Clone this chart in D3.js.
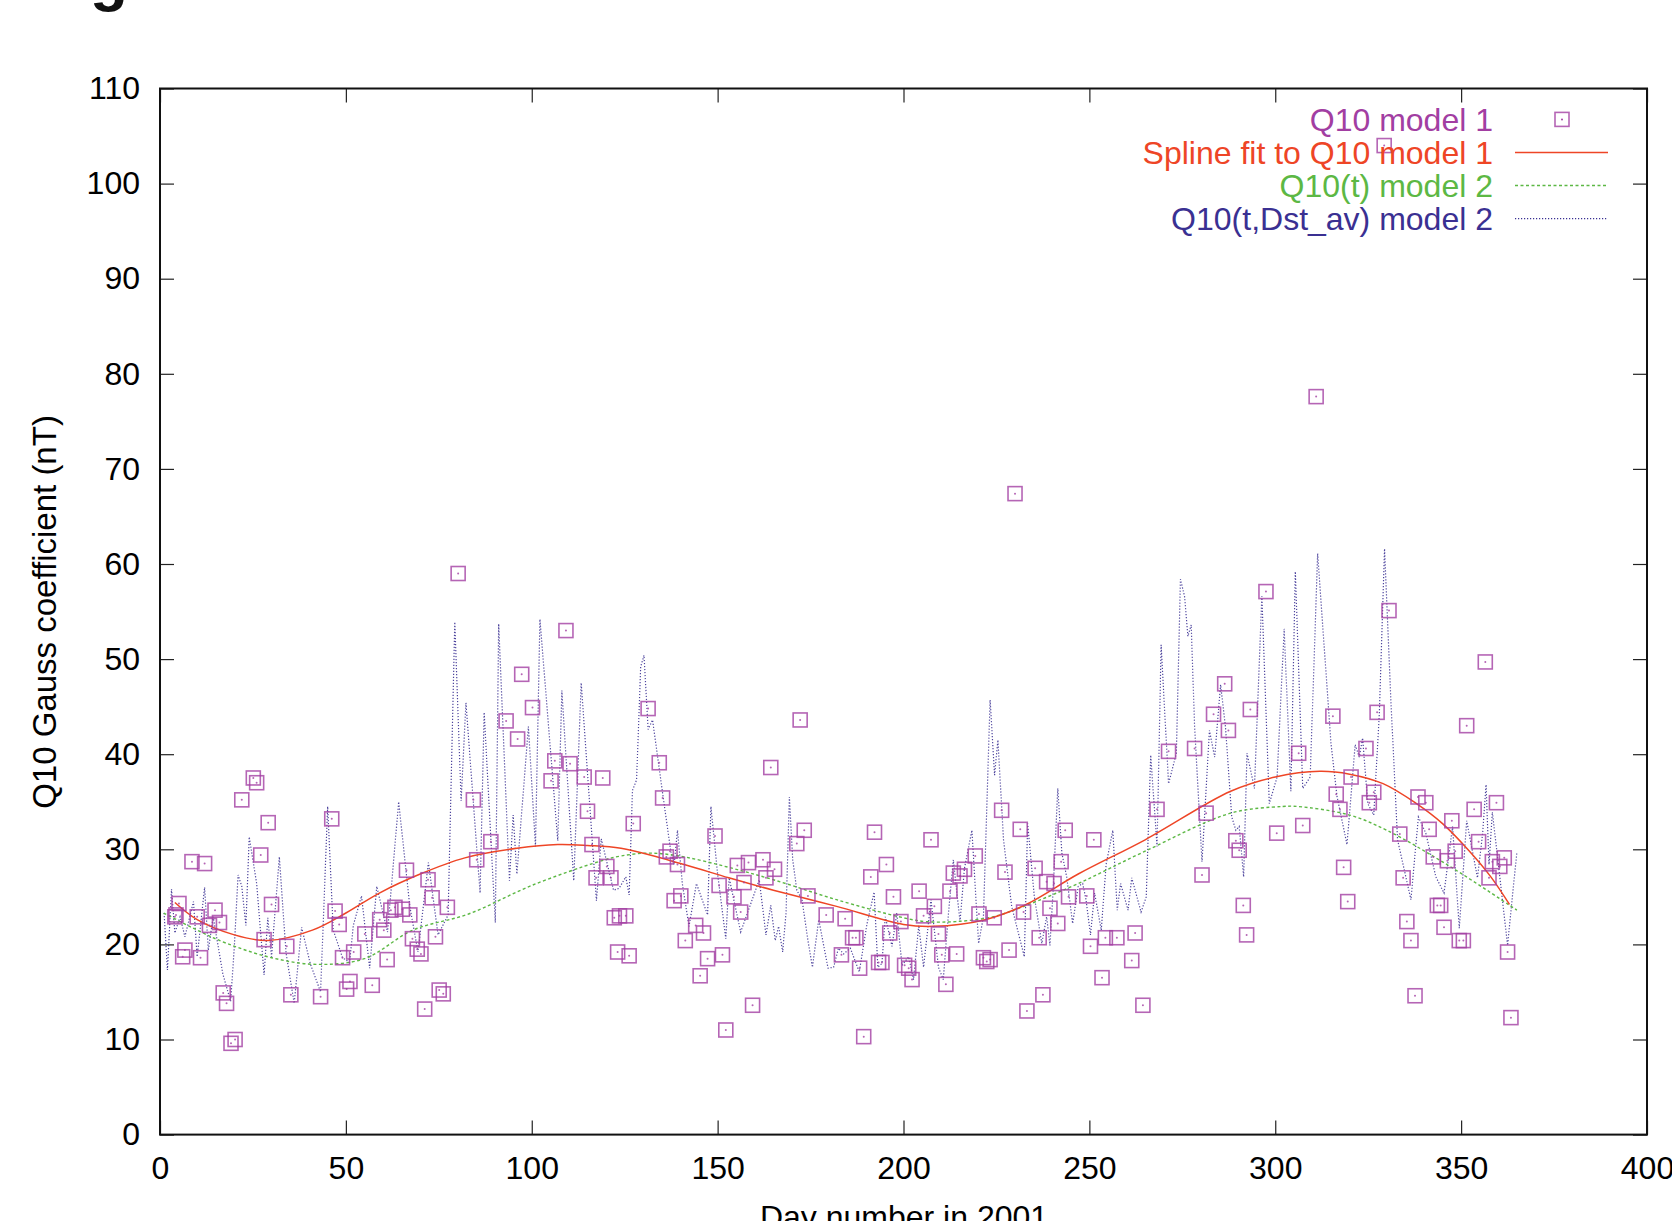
<!DOCTYPE html>
<html>
<head>
<meta charset="utf-8">
<script src="https://cdn.jsdelivr.net/npm/d3@7"></script>
<style>
html,body{margin:0;padding:0;background:#fff;}
svg{display:block;font-family:"Liberation Sans",Arial,Helvetica,sans-serif;}
</style>
</head>
<body>
<svg id="chart" width="1672" height="1221"></svg>
<script>
// ---------- DATA ----------
const xTicks = [0,50,100,150,200,250,300,350,400];
const yTicks = [0,10,20,30,40,50,60,70,80,90,100,110];

const seriesNames = ["Q10 model 1","Spline fit to Q10 model 1","Q10(t) model 2","Q10(t,Dst_av) model 2"];

// Q10 model 1 (squares): day, value
const q10Days = [4,4.3,5.1,6.1,6.7,8.6,10,10.9,12,13.3,14.8,16,17,17.9,19.1,20.2,22,25.1,26,27.1,28,29.1,30,34.1,35.2,43.2,
46.2,47.1,48.2,49.1,50.2,51.1,52.1,55.1,57.1,59.1,60.2,61.1,62.1,63.2,65.2,66.3,67.2,67.9,69.2,70.2,71.2,72.1,73.2,74.1,75.1,76.2,77.3,
80.2,84.3,85.2,89,93.1,96.2,97.3,100.2,105.2,106.2,109.2,110.3,114.1,115,116.2,117.3,119.1,120.2,121.3,122.2,123.1,123.6,125.3,126.2,127.3,
131.3,134.3,135.2,136.2,137.2,138.3,139.2,140.1,141.3,144.1,145.3,146.2,147.3,149.3,150.4,151.3,152.2,154.4,155.3,156.2,157.1,158.3,159.4,
162.2,163,164.3,165.3,171.3,172.2,173.3,174.3,179.2,183.3,184.3,186.3,187.2,188.2,189.3,191.2,192.2,193.3,194.2,195.4,196.3,197.3,199.3,
200.3,201.4,202.3,204.2,205.4,207.4,208.3,209.4,210.3,211.4,212.5,213.4,214.3,215.2,216.4,219.3,220.3,221.5,222.4,223.3,224.4,226.4,227.3,228.4,
230,231.4,232.3,233.2,235.4,236.5,237.5,238.5,239.4,240.5,241.5,242.4,243.5,244.4,249.3,250.3,251.2,253.4,254.3,257.4,261.4,262.3,264.4,
268.2,271.3,278.3,280.3,281.4,283.4,286.4,287.4,289.4,290.3,291.4,292.3,293.3,297.5,300.4,306.3,307.4,311,315.5,316.4,317.4,318.4,319.5,
320.4,324.4,325.3,326.5,327.4,329.3,330.6,333.5,334.4,335.4,336.5,337.6,338.4,340.5,341.4,342.5,343.6,344.5,345.4,346.3,347.5,348.4,349.5,350.6,
351.5,353.5,354.7,356.5,357.5,358.4,359.5,360.4,361.6,362.5,363.4];
const q10Vals = [22.9,23.1,24.3,18.7,19.4,28.7,22.9,18.6,28.5,22.0,23.6,22.3,14.9,13.8,9.6,10.0,35.2,37.5,37.0,29.4,20.5,32.8,24.2,19.8,14.7,14.5,
33.2,23.5,22.1,18.6,15.3,16.1,19.2,21.1,15.7,22.6,21.5,18.4,23.6,23.9,23.7,27.8,23.1,20.6,19.5,19.0,13.2,26.8,24.9,20.8,15.2,14.8,23.9,
59.0,35.2,28.9,30.8,43.5,41.6,48.4,44.9,37.2,39.3,53.0,39.0,37.6,34.0,30.5,27.0,37.5,28.2,27.0,22.8,19.2,23.0,23.0,18.8,32.7,
44.8,39.1,35.4,29.2,29.8,24.6,28.4,25.1,20.4,22.0,16.7,21.2,18.5,31.4,26.2,18.9,11.0,25.0,28.3,23.4,26.5,28.6,13.6,
28.9,27.0,38.6,27.9,30.6,43.6,32.0,25.1,23.1,18.9,22.7,20.7,20.7,17.5,10.3,27.1,31.8,18.1,18.1,28.4,21.2,25.0,22.4,
17.8,17.5,16.3,25.6,23.0,31.0,24.0,21.1,18.9,15.8,25.6,27.5,19.0,27.2,27.9,29.3,23.2,18.6,18.2,18.4,22.8,34.1,27.6,19.4,
67.4,32.1,23.4,13.0,28.0,20.7,14.7,26.6,23.8,26.4,22.2,28.7,32.0,25.0,25.1,19.8,31.0,16.5,20.7,20.7,18.3,21.2,13.6,
34.2,40.3,40.6,27.3,33.8,44.2,47.4,42.5,30.9,29.9,24.1,21.0,44.7,57.1,31.7,40.1,32.5,77.6,44.0,35.8,34.2,28.1,24.5,
37.6,40.6,34.9,36.0,44.4,104.0,55.1,31.6,27.0,22.4,20.4,14.6,35.5,34.9,32.1,29.2,24.1,24.1,21.8,28.8,33.0,29.8,20.4,20.4,
43.0,34.2,30.8,49.7,27.0,28.7,34.9,28.2,29.1,19.2,12.3];

// Spline fit to Q10 model 1
const splineDays = [4,10,20,29,41,50,59,70,82,96,107,115,124,141,153,165,182,200,208,222,233,247,265,288,300,312,320,329,338,345,352,358,363];
const splineVals = [24.4,22.6,21.0,20.4,21.5,23.3,25.4,27.4,29.1,30.1,30.5,30.4,30.1,28.4,27.0,25.7,24.0,22.1,21.9,22.6,24.2,27.4,31.0,36.1,37.6,38.2,37.9,36.9,34.8,32.7,29.9,27.1,24.2];

// Q10(t) model 2
const modelTDays = [1,10,18,30,42,55,68,83,100,118,124,132,141,153,165,182,200,206,214,224,233,247,265,288,302,306,320,330,347,365];
const modelTVals = [23.3,21.5,20.1,18.6,17.9,18.5,21.5,23.2,26.2,28.7,29.3,29.6,29.2,28.1,26.8,24.7,22.8,22.4,22.4,22.9,24.1,26.4,29.8,33.8,34.5,34.5,33.6,32.0,28.2,23.6];

// Q10(t,Dst_av) model 2
const modelDstDays = [1.1,2,3.1,4,5.4,6.7,9,10,12,13,14.3,16.9,19,20,21,22,23.1,24,26,28,29,30,32.1,33.9,36.1,38.1,40.4,43.2,45.1,
46.6,49.1,51,52,54.2,56.4,58.3,61.2,64.2,67.2,69.4,72.2,74.8,77.5,79.3,81,82.3,86.1,87.2,90.2,91.1,94,95,96,99.1,101,102.2,107,108.1,
111.3,113.3,117.4,118.7,122,123.5,125.3,126.2,127.1,128.2,129.3,130.2,131.3,132.5,135.2,137.4,138.3,139.2,140.5,142.3,144.3,147.3,148.2,
150,152.2,153.1,156.2,161.2,163,164.3,165.5,166.4,167.5,168.4,169.3,170.2,171.3,172.7,174.3,175.5,177.2,179.7,181.2,182.5,183.9,185.7,
188.1,190.2,192.1,193.1,194.2,195.1,196.9,198.2,199.6,201.4,202.7,204.1,205.4,207.4,209.4,210.7,212.1,213.4,215.2,216.4,218.4,220.2,
221.5,223.3,224.5,225.4,226.9,229.1,232.5,233.4,235.2,237.2,238.5,239.4,240.3,241.5,242.6,243.9,245.5,247,248.2,249.1,250.3,251.4,
253.2,254.5,256.3,257.5,258.4,260.4,261.4,263.9,265.3,266.5,268.2,269.3,271.3,273.4,274.5,275.6,276.5,277.4,278.3,280.3,282.3,283.7,
285.3,286.6,288.3,289.4,290.3,291.5,292.4,294.4,296.4,298.4,300.5,302.4,304.2,305.4,307.4,309.4,311.4,315,316.6,319.3,321.5,322.6,
323.5,324.9,326.5,328,329.4,331.1,332.9,336.5,338.5,340.5,343.2,345.4,347.7,349.5,351.5,354.4,355.8,356.7,357.5,358.4,360.2,362.5,363.6,365];
const modelDstVals = [23.3,17.3,25.8,21.2,22.9,20.8,24.5,18.7,26.0,19.4,22.9,16.9,14.0,19.8,27.3,26.1,22.0,31.3,26.4,16.8,22.8,18.7,29.2,19.1,13.8,21.8,18.0,15.0,34.5,
21.5,18.6,18.1,22.0,25.1,17.5,26.1,21.3,35.0,24.0,19.2,28.6,21.0,23.1,53.9,35.1,45.4,25.4,44.4,22.3,53.7,26.7,33.6,27.4,42.9,30.3,54.2,30.9,46.7,
26.7,47.5,24.6,31.1,25.7,25.9,27.1,25.2,36.2,37.3,49.2,50.4,42.6,43.6,35.9,29.8,28.4,32.0,26.4,21.9,26.4,23.1,34.5,
27.4,20.6,27.0,21.3,26.8,21.0,24.1,20.4,21.9,19.2,23.3,35.5,28.9,25.7,24.7,20.4,17.6,22.6,17.5,17.6,19.6,19.0,19.6,
17.1,22.2,25.5,17.6,18.0,22.9,19.8,23.3,17.8,18.7,16.3,22.0,17.6,24.7,17.6,16.3,23.3,28.9,22.4,28.0,32.0,20.1,
22.9,45.7,37.8,41.5,31.0,24.0,18.7,32.7,25.0,20.1,22.9,19.9,26.1,36.4,29.6,27.1,22.2,26.1,26.4,24.7,21.0,25.4,
21.5,28.4,32.0,23.6,26.4,23.6,27.0,23.4,25.0,39.9,30.3,51.5,36.9,40.1,58.4,56.6,52.4,53.6,42.9,28.7,42.5,39.7,
47.3,42.9,33.4,32.0,32.4,27.1,40.1,36.4,56.6,34.8,37.6,53.2,36.1,59.2,36.4,37.6,61.1,41.1,35.6,30.5,41.0,39.7,
41.7,34.8,33.6,44.3,61.6,45.7,31.0,24.7,33.4,31.7,27.1,25.4,32.4,21.7,33.0,27.0,31.7,36.8,28.4,33.9,27.8,19.9,24.3,29.7];

// ---------- STYLE ----------
const colPurple = "#a23ea2", colRed = "#ee4526", colGreen = "#5cb844", colBlue = "#3a3092";
const fontSize = 32;

// ---------- CHART ----------
const svg = d3.select("#chart");
const W = 1672, H = 1221;
const pL = 160, pR = 1647, pT = 88.5, pB = 1134.6;

svg.append("rect").attr("width", W).attr("height", H).attr("fill", "#fff");

// partial title glyph at top-left (cut off by page edge)
svg.append("text").attr("x", 90).attr("y", -1)
  .attr("font-size", 62).attr("font-weight", "bold").attr("fill", "#111").text("g");

const x = d3.scaleLinear().domain([0, 400]).range([pL, pR]);
const y = d3.scaleLinear().domain([0, 110]).range([pB, pT]);

// axes (inward ticks)
const gB = svg.append("g").attr("transform", `translate(0,${pB})`)
  .call(d3.axisBottom(x).tickValues(xTicks).tickSizeInner(-14).tickSizeOuter(0).tickPadding(22).tickFormat(d3.format("d")));
const gT = svg.append("g").attr("transform", `translate(0,${pT})`)
  .call(d3.axisTop(x).tickValues(xTicks).tickSizeInner(-14).tickSizeOuter(0).tickFormat(""));
const gL = svg.append("g").attr("transform", `translate(${pL},0)`)
  .call(d3.axisLeft(y).tickValues(yTicks).tickSizeInner(-14).tickSizeOuter(0).tickPadding(20).tickFormat(d3.format("d")));
const gR = svg.append("g").attr("transform", `translate(${pR},0)`)
  .call(d3.axisRight(y).tickValues(yTicks).tickSizeInner(-14).tickSizeOuter(0).tickFormat(""));

[gB, gT, gL, gR].forEach(g => {
  g.select(".domain").remove();
  g.selectAll(".tick line").attr("stroke", "#222").attr("stroke-width", 1.2);
  g.selectAll(".tick text").attr("font-size", fontSize).attr("fill", "#000")
    .attr("font-family", "'Liberation Sans',Arial,Helvetica,sans-serif");
});

// frame
svg.append("rect").attr("x", pL).attr("y", pT).attr("width", pR - pL).attr("height", pB - pT)
  .attr("fill", "none").attr("stroke", "#111").attr("stroke-width", 2);

// axis titles
svg.append("text").attr("transform", `translate(56,612) rotate(-90)`)
  .attr("text-anchor", "middle").attr("font-size", 33).attr("fill", "#000")
  .text("Q10 Gauss coefficient (nT)");
svg.append("text").attr("x", 904).attr("y", 1228)
  .attr("text-anchor", "middle").attr("font-size", fontSize).attr("fill", "#000")
  .text("Day number in 2001");

const plot = svg.append("g");

const lineLin = d3.line().x(d => x(d[0])).y(d => y(d[1])).curve(d3.curveLinear);
const lineSmooth = d3.line().x(d => x(d[0])).y(d => y(d[1])).curve(d3.curveCatmullRom.alpha(0.5));

// Q10(t,Dst_av) model 2 - dotted blue
plot.append("path").datum(d3.zip(modelDstDays, modelDstVals))
  .attr("d", lineLin).attr("fill", "none").attr("stroke", colBlue)
  .attr("stroke-width", 1.2).attr("stroke-dasharray", "1.2,1.8").attr("opacity", 0.9);

// Q10(t) model 2 - dashed green
plot.append("path").datum(d3.zip(modelTDays, modelTVals))
  .attr("d", lineSmooth).attr("fill", "none").attr("stroke", colGreen)
  .attr("stroke-width", 1.4).attr("stroke-dasharray", "3,2.5");

// Spline fit - red
plot.append("path").datum(d3.zip(splineDays, splineVals))
  .attr("d", lineSmooth).attr("fill", "none").attr("stroke", colRed)
  .attr("stroke-width", 1.5);

// squares
const sq = 14;
const pts = d3.zip(q10Days, q10Vals);
const gp = plot.append("g");
gp.selectAll("rect").data(pts).join("rect")
  .attr("x", d => x(d[0]) - sq / 2).attr("y", d => y(d[1]) - sq / 2)
  .attr("width", sq).attr("height", sq)
  .attr("fill", "none").attr("stroke", colPurple).attr("stroke-width", 1.6).attr("opacity", 0.8);
gp.selectAll("circle").data(pts).join("circle")
  .attr("cx", d => x(d[0])).attr("cy", d => y(d[1])).attr("r", 1)
  .attr("fill", colPurple).attr("opacity", 0.8);

// legend
const legendY = [119.4, 152.5, 185.5, 218.6];
const legendCols = [colPurple, colRed, colGreen, colBlue];
const lg = svg.append("g");
seriesNames.forEach((name, i) => {
  lg.append("text").attr("x", 1493).attr("y", legendY[i]).attr("dy", "0.36em")
    .attr("text-anchor", "end").attr("font-size", fontSize).attr("fill", legendCols[i]).text(name);
});
lg.append("rect").attr("x", 1562 - sq / 2).attr("y", legendY[0] - sq / 2).attr("width", sq).attr("height", sq)
  .attr("fill", "none").attr("stroke", colPurple).attr("stroke-width", 1.6).attr("opacity", 0.8);
lg.append("circle").attr("cx", 1562).attr("cy", legendY[0]).attr("r", 1).attr("fill", colPurple);
lg.append("line").attr("x1", 1515).attr("x2", 1608).attr("y1", legendY[1]).attr("y2", legendY[1])
  .attr("stroke", colRed).attr("stroke-width", 1.5);
lg.append("line").attr("x1", 1515).attr("x2", 1608).attr("y1", legendY[2]).attr("y2", legendY[2])
  .attr("stroke", colGreen).attr("stroke-width", 1.4).attr("stroke-dasharray", "3,2.5");
lg.append("line").attr("x1", 1515).attr("x2", 1608).attr("y1", legendY[3]).attr("y2", legendY[3])
  .attr("stroke", colBlue).attr("stroke-width", 1.2).attr("stroke-dasharray", "1.2,1.8");
</script>
</body>
</html>
